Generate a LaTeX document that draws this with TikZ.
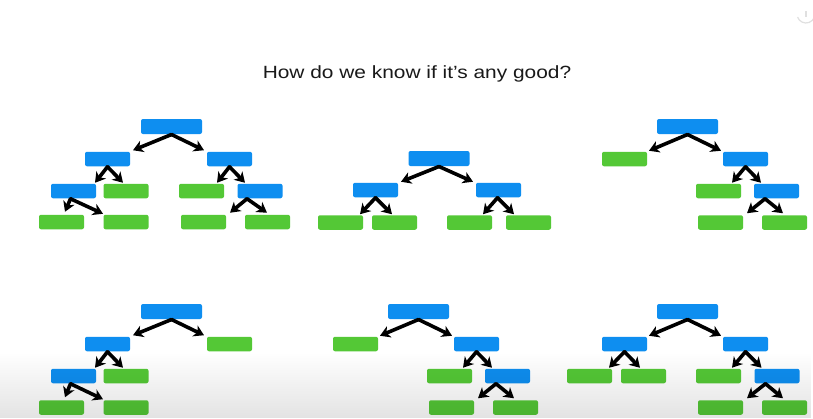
\documentclass[tikz,border=0pt]{standalone}
\usepackage{fontspec}
\setmainfont{Liberation Sans}
\usetikzlibrary{arrows.meta,calc,fadings}

\definecolor{leafgreen}{RGB}{84,200,54}
\definecolor{splitblue}{RGB}{14,142,240}
\definecolor{titleink}{RGB}{25,25,25}

\tikzfading[name=haze up, top color=transparent!100, bottom color=transparent!0]

% arrow from a parent box (tail shifted by #3) to a child box (tip offset #4,#5 from its top centre)
\newcommand\tie[5]{\draw[link] ($(#1.south)+(#3,0.5)$) -- ($(#2.north)+(#4,#5)$);}

\begin{document}
\begin{tikzpicture}[x=1pt,y=-1pt,
  box/.style={rounded corners=2pt, minimum height=14.5pt, inner sep=0pt, outer sep=0pt},
  split/.style={box, fill=splitblue, minimum width=45pt},
  rootsplit/.style={box, fill=splitblue, minimum width=61pt, minimum height=15pt},
  leaf/.style={box, fill=leafgreen, minimum width=45pt},
  link/.style={line width=3.6pt, line cap=round, -{Stealth[length=10pt,width=12pt,inset=3pt]}},
  icon/.style={draw=black!12, line width=1.2pt}]

\useasboundingbox (0,0) rectangle (813,418);
\fill[white] (0,0) rectangle (813,418);

% title
\node[font=\fontsize{17.7}{20}\selectfont, text=titleink, anchor=base, inner sep=0pt]
  (title) at (417,78) {\scalebox{1.18}[1]{How do we know if it’s any good?}};

% ---- tree 1 ----
\node[rootsplit] (r1) at (171.5,126.5) {};
\node[split] (a1) at (107.5,159) {};
\node[split] (b1) at (229.5,159) {};
\node[split] (c1) at (73.5,191) {};
\node[leaf]  (d1) at (126,191) {};
\node[leaf]  (e1) at (201.5,191) {};
\node[split] (f1) at (260,191) {};
\node[leaf]  (g1) at (61.5,222) {};
\node[leaf]  (h1) at (126,222) {};
\node[leaf]  (i1) at (203.5,222) {};
\node[leaf]  (j1) at (267.5,222) {};
\tie{r1}{a1}{0}{25.5}{-1.5}
\tie{r1}{b1}{0}{-25.5}{-1.5}
\tie{a1}{c1}{0}{21.5}{-1}
\tie{a1}{d1}{0}{-3}{-1}
\tie{b1}{e1}{0}{15.5}{-1}
\tie{b1}{f1}{0}{-15}{-1}
\tie{c1}{g1}{-3}{3.5}{-3}
\tie{c1}{h1}{-3}{-23}{-1}
\tie{f1}{i1}{-13}{26.5}{-2}
\tie{f1}{j1}{-13}{-0.5}{-2}

% ---- tree 2 ----
\node[rootsplit] (r2) at (439,158.5) {};
\node[split] (a2) at (375.5,190) {};
\node[split] (b2) at (498.5,190) {};
\node[leaf]  (g2) at (340.5,222.5) {};
\node[leaf]  (h2) at (394.5,222.5) {};
\node[leaf]  (i2) at (469.5,222.5) {};
\node[leaf]  (j2) at (528.5,222.5) {};
\tie{r2}{a2}{0}{25.5}{-1}
\tie{r2}{b2}{0}{-25.5}{-1}
\tie{a2}{g2}{0}{19.5}{-1}
\tie{a2}{h2}{0}{-2.5}{-1}
\tie{b2}{i2}{-1}{13.5}{-1}
\tie{b2}{j2}{-1}{-14.5}{-1}

% ---- tree 3 ----
\node[rootsplit] (r3) at (687.5,126.5) {};
\node[leaf]  (a3) at (624.5,159) {};
\node[split] (b3) at (745.5,159) {};
\node[leaf]  (c3) at (718.5,191) {};
\node[split] (d3) at (776.5,191) {};
\node[leaf]  (e3) at (720.5,222.5) {};
\node[leaf]  (f3) at (784.5,222.5) {};
\tie{r3}{a3}{0}{24.5}{-1}
\tie{r3}{b3}{0}{-24.5}{-1}
\tie{b3}{c3}{0}{13.5}{-1}
\tie{b3}{d3}{0}{-15.5}{-1}
\tie{d3}{e3}{-11.5}{26.5}{-2}
\tie{d3}{f3}{-11.5}{-1.5}{-2}

% ---- tree 4 ----
\node[rootsplit] (r4) at (171.5,311.5) {};
\node[split] (a4) at (107.5,344) {};
\node[leaf]  (b4) at (229.5,344) {};
\node[split] (c4) at (73.5,376) {};
\node[leaf]  (d4) at (126,376) {};
\node[leaf]  (g4) at (61.5,407.5) {};
\node[leaf]  (h4) at (126,407.5) {};
\tie{r4}{a4}{0}{25.5}{-1.5}
\tie{r4}{b4}{0}{-25.5}{-1.5}
\tie{a4}{c4}{0}{21.5}{-1}
\tie{a4}{d4}{0}{-3}{-1}
\tie{c4}{g4}{-3}{3.5}{-3}
\tie{c4}{h4}{-3}{-23}{-1}

% ---- tree 5 ----
\node[rootsplit] (r5) at (418.5,311.5) {};
\node[leaf]  (a5) at (355.5,344) {};
\node[split] (b5) at (476.5,344) {};
\node[leaf]  (c5) at (449.5,376) {};
\node[split] (d5) at (507.5,376) {};
\node[leaf]  (e5) at (451.5,407.5) {};
\node[leaf]  (f5) at (515.5,407.5) {};
\tie{r5}{a5}{0}{24.5}{-1}
\tie{r5}{b5}{0}{-24.5}{-1}
\tie{b5}{c5}{0}{13.5}{-1}
\tie{b5}{d5}{0}{-15.5}{-1}
\tie{d5}{e5}{-11.5}{26.5}{-2}
\tie{d5}{f5}{-11.5}{-1.5}{-2}

% ---- tree 6 ----
\node[rootsplit] (r6) at (687.5,311.5) {};
\node[split] (a6) at (624.5,344) {};
\node[split] (b6) at (745.5,344) {};
\node[leaf]  (g6) at (589.5,376) {};
\node[leaf]  (h6) at (643.5,376) {};
\node[leaf]  (c6) at (718.5,376) {};
\node[split] (d6) at (777,376) {};
\node[leaf]  (e6) at (720.5,407.5) {};
\node[leaf]  (f6) at (784.5,407.5) {};
\tie{r6}{a6}{0}{24.5}{-1}
\tie{r6}{b6}{0}{-24.5}{-1}
\tie{a6}{g6}{0}{19.5}{-1}
\tie{a6}{h6}{0}{-3.5}{-1}
\tie{b6}{c6}{0}{13.5}{-1}
\tie{b6}{d6}{0}{-15.5}{-1}
\tie{d6}{e6}{-11.5}{26.5}{-2}
\tie{d6}{f6}{-11.5}{-1.5}{-2}

% faint info badge in the corner
\draw[icon] ($(806,14)+(160:9)$) arc[start angle=160, end angle=20, radius=9];
\draw[icon] (806,11) -- (806,17);

% soft grey haze along the bottom edge
\fill[black, fill opacity=0.11, path fading=haze up] (0,352) rectangle (813,418);
\end{tikzpicture}
\end{document}
